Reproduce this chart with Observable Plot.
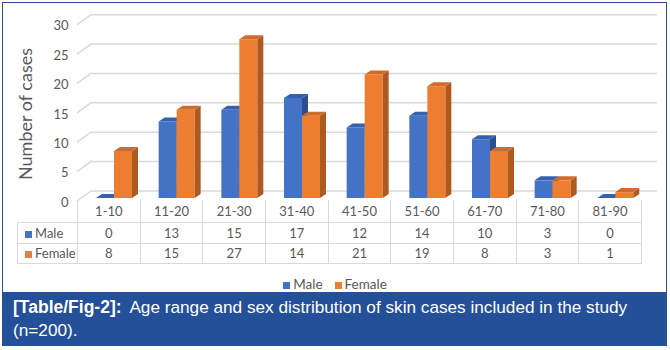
<!DOCTYPE html>
<html>
<head>
<meta charset="utf-8">
<script src="https://cdn.jsdelivr.net/npm/d3@7"></script>
<script src="https://cdn.jsdelivr.net/npm/@observablehq/plot@0.6"></script>
<style>
  html, body { margin: 0; padding: 0; background: #fff; }
  #wrap { position: relative; width: 670px; height: 350px; overflow: hidden; background: #fff; }
  #frame { position: absolute; left: 2px; top: 2px; width: 665px; height: 292px; border: 1.5px solid #2e4f8f; box-sizing: border-box; }
  #chart { position: absolute; left: 0; top: 0; }
  #ylabel { position: absolute; left: 25px; top: 114px; transform: translate(-50%, -50%) rotate(-90deg); font: 18px Lato, "Open Sans", sans-serif; color: #595959; white-space: nowrap; }
  #tbl { position: absolute; left: 17px; top: 200px; border-collapse: collapse; table-layout: fixed; font: 13px Lato, "Open Sans", sans-serif; color: #595959; }
  #tbl td { border: 1px solid #dadada; text-align: center; padding: 0; white-space: nowrap; }
  #tbl tr.head td { border-top: none; }
  #tbl tr.head td.corner { border: none; border-bottom: 1px solid #dadada; border-right: 1px solid #dadada; }
  #tbl td.rowlab { text-align: left; padding-left: 7px; }
  .sw { display: inline-block; width: 7px; height: 7px; margin-right: 3px; vertical-align: 0px; }
  #legend { position: absolute; left: 0; width: 670px; top: 276px; text-align: center; font: 13.5px Lato, "Open Sans", sans-serif; color: #595959; }
  #legend span.item { margin: 0 6px; }
  #caption { position: absolute; left: 2px; top: 292px; width: 665px; height: 54px; background: #244f99; color: #fff; font: 17.2px "Liberation Sans", Arial, sans-serif; line-height: 23px; padding: 4px 10px 0 11px; box-sizing: border-box; }
  #caption div { white-space: nowrap; }
  #caption b { font-size: 17.5px; margin-right: 4px; }
</style>
</head>
<body>
<div id="wrap">
  <div id="chart"></div>
  <div id="frame"></div>
  <div id="ylabel">Number of cases</div>
  <table id="tbl"></table>
  <div id="legend"></div>
  <div id="caption">
    <div><b>[Table/Fig-2]:</b> <span>Age range and sex distribution of skin cases included in the study</span></div>
    <div>(n=200).</div>
  </div>
</div>
<script>
// ---- data ----
const categories = ["1-10", "11-20", "21-30", "31-40", "41-50", "51-60", "61-70", "71-80", "81-90"];
const maleValues = [0, 13, 15, 17, 12, 14, 10, 3, 0];
const femaleValues = [8, 15, 27, 14, 21, 19, 8, 3, 1];
const seriesNames = ["Male", "Female"];
const yTicks = [0, 5, 10, 15, 20, 25, 30];

const rows = categories.flatMap((c, i) => [
  {age: c, sex: "Male", value: maleValues[i]},
  {age: c, sex: "Female", value: femaleValues[i]}
]);

// ---- styling ----
const faceColors = {
  Male:   {front: "#4472c4", side: "#2c4e8c", top: "#3462b0"},
  Female: {front: "#ed7d31", side: "#ae5920", top: "#cf6c2a"}
};
const barInset = {Male: 19, Female: 37};
const barW = 18, depthX = 6, depthY = 4;

// grid: back wall lines with perspective slant from the front-left edge
function gridRender(index, scales, values, dims) {
  const {y} = scales;
  const g = d3.create("svg:g").attr("stroke", "#d9d9d9").attr("stroke-width", 1.5).attr("fill", "none");
  const left = dims.marginLeft, right = dims.width - dims.marginRight;
  for (const t of yTicks) {
    const yf = y(t) + 3, yb = y(t) - 7;
    g.append("path").attr("d", `M${left},${yf}L${left + 14},${yb}L${right + 16},${yb}`);
  }
  return g.node();
}

function barsRender(index, scales) {
  const {x, y} = scales;
  const g = d3.create("svg:g");
  for (const s of seriesNames) {
    const c = faceColors[s];
    for (const r of rows.filter(d => d.sex === s)) {
      const x0 = x(r.age) + barInset[s], x1 = x0 + barW;
      const y0 = y(0), y1 = y(r.value);
      g.append("path").attr("fill", c.front)
        .attr("d", `M${x0},${y1}L${x1},${y1}L${x1},${y0}L${x0},${y0}Z`);
      g.append("path").attr("fill", c.side)
        .attr("d", `M${x1},${y1}L${x1 + depthX},${y1 - depthY}L${x1 + depthX},${y0 - depthY}L${x1},${y0}Z`);
      g.append("path").attr("fill", c.top)
        .attr("d", `M${x0},${y1}L${x0 + depthX},${y1 - depthY}L${x1 + depthX},${y1 - depthY}L${x1},${y1}Z`);
    }
  }
  return g.node();
}

const chart = Plot.plot({
  width: 670,
  height: 205,
  marginLeft: 77,
  marginRight: 29,
  marginTop: 21.7,
  marginBottom: 7,
  x: {type: "band", domain: categories, padding: 0, round: false, axis: null},
  y: {domain: [0, 30]},
  style: {fontFamily: "Lato, 'Open Sans', sans-serif", color: "#595959", background: "transparent", overflow: "visible"},
  marks: [
    gridRender,
    Plot.axisY({ticks: yTicks, tickSize: 0, tickPadding: 9, dy: 4, fontSize: 13, label: null, tickFormat: d => String(d)}),
    barsRender
  ]
});
document.getElementById("chart").appendChild(chart);

// ---- data table ----
const tbl = d3.select("#tbl");
const colgroup = tbl.append("colgroup");
colgroup.append("col").style("width", "60px");
categories.forEach(() => colgroup.append("col").style("width", "62.67px"));
const head = tbl.append("tr").attr("class", "head").style("height", "22px");
head.append("td").attr("class", "corner");
categories.forEach(c => head.append("td").text(c));
[["Male", maleValues, "21px"], ["Female", femaleValues, "20px"]].forEach(([name, vals, h]) => {
  const tr = tbl.append("tr").style("height", h);
  const lab = tr.append("td").attr("class", "rowlab");
  lab.append("span").attr("class", "sw").style("background", faceColors[name].front);
  lab.append("span").text(name);
  vals.forEach(v => tr.append("td").text(v));
});

// ---- legend ----
const legend = d3.select("#legend");
seriesNames.forEach(name => {
  const it = legend.append("span").attr("class", "item");
  it.append("span").attr("class", "sw").style("background", faceColors[name].front);
  it.append("span").text(name);
});
</script>
</body>
</html>
